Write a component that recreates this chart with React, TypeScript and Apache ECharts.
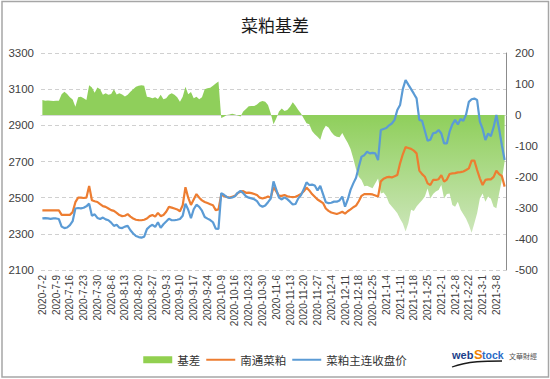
import React, { useEffect, useRef } from "react";
import * as echarts from "echarts";

// Trading-day calendar (weekdays minus exchange holidays)
const START_DATE = "2020-07-02";
const END_DATE = "2021-03-11";
const HOLIDAYS = [
  "2020-10-1", "2020-10-2", "2020-10-5", "2020-10-6", "2020-10-7", "2020-10-8",
  "2021-1-1",
  "2021-2-11", "2021-2-12", "2021-2-15", "2021-2-16", "2021-2-17",
];

function buildCategories(): string[] {
  const out: string[] = [];
  const d = new Date(START_DATE + "T00:00:00Z");
  const end = new Date(END_DATE + "T00:00:00Z");
  while (d.getTime() <= end.getTime()) {
    const wd = d.getUTCDay();
    const s = `${d.getUTCFullYear()}-${d.getUTCMonth() + 1}-${d.getUTCDate()}`;
    if (wd !== 0 && wd !== 6 && HOLIDAYS.indexOf(s) < 0) out.push(s);
    d.setUTCDate(d.getUTCDate() + 1);
  }
  return out;
}
const categories = buildCategories();

// 南通菜粕 (spot)
const spot = [
  2430, 2430, 2430, 2430, 2430, 2430, 2430, 2405, 2405, 2405,
  2405, 2420, 2475, 2500, 2500, 2498, 2500, 2565, 2486, 2480,
  2476, 2464, 2453, 2449, 2440, 2431, 2427, 2416, 2404, 2398,
  2400, 2409, 2395, 2385, 2378, 2376, 2375, 2378, 2385, 2398,
  2404, 2395, 2416, 2398, 2404, 2422, 2449, 2445, 2440, 2435,
  2425, 2458, 2558, 2500, 2460, 2490, 2520, 2500, 2485, 2476,
  2470, 2464, 2458, 2431, 2435, 2515, 2510, 2504, 2500, 2505,
  2510, 2525, 2533, 2536, 2527, 2528, 2525, 2520, 2515, 2500,
  2495, 2500, 2507, 2500, 2558, 2535, 2510, 2510, 2515, 2508,
  2505, 2503, 2505, 2512, 2520, 2535, 2556, 2540, 2520, 2505,
  2490, 2480, 2470, 2440, 2427, 2418, 2414, 2410, 2415, 2422,
  2412, 2425, 2435, 2447, 2456, 2480, 2510, 2520, 2520, 2520,
  2518, 2512, 2506, 2590, 2605, 2612, 2615, 2612, 2618, 2625,
  2690, 2740, 2780, 2775, 2770, 2760, 2745, 2650, 2630, 2616,
  2579, 2570, 2598, 2598, 2602, 2625, 2589, 2600, 2631, 2634,
  2636, 2640, 2641, 2645, 2653, 2662, 2705, 2705, 2653, 2607,
  2570, 2598, 2601, 2601, 2615, 2649, 2630, 2620, 2561,
];

// 菜粕主连收盘价 (futures close)
const futures = [
  2385, 2387, 2385, 2383, 2385, 2385, 2382, 2340, 2332, 2335,
  2348, 2370, 2440, 2443, 2441, 2444, 2452, 2467, 2400, 2408,
  2388, 2382, 2390, 2380, 2375, 2362, 2344, 2350, 2334, 2332,
  2340, 2344, 2320, 2302, 2288, 2282, 2279, 2284, 2326, 2341,
  2350, 2338, 2364, 2333, 2353, 2368, 2384, 2375, 2375, 2378,
  2382, 2400, 2467, 2433, 2386, 2436, 2461, 2449, 2428, 2393,
  2384, 2376, 2364, 2329, 2327, 2525, 2516, 2504, 2498, 2501,
  2508, 2527, 2538, 2525, 2508, 2500, 2496, 2491, 2481, 2458,
  2450, 2457, 2475, 2495, 2590, 2545, 2500, 2490, 2502, 2492,
  2478, 2462, 2465, 2496, 2515, 2546, 2585, 2570, 2572, 2567,
  2540, 2565, 2520, 2475, 2470, 2472, 2478, 2478, 2485, 2506,
  2450, 2490, 2543, 2579, 2610, 2671, 2727, 2735, 2754, 2745,
  2748, 2745, 2708, 2874, 2880, 2885, 2900, 2910, 2930, 2985,
  3012, 3100, 3151, 3125, 3100, 3075, 3049, 2930, 2925, 2870,
  2815, 2820, 2856, 2860, 2874, 2855, 2800, 2800, 2865, 2905,
  2930, 2905, 2935, 2925, 2960, 3030, 3044, 3048, 3040, 2920,
  2880, 2819, 2855, 2840, 2890, 2957, 2880, 2790, 2708,
];

// 基差 (right axis)
const basis = [
  48, 46, 47, 46, 45, 46, 46, 67, 75, 68,
  57, 50, 27, 57, 59, 54, 48, 96, 89, 72,
  89, 83, 65, 70, 65, 68, 83, 66, 70, 66,
  60, 65, 75, 83, 91, 94, 96, 94, 59, 57,
  54, 57, 52, 65, 51, 54, 65, 70, 65, 57,
  43, 59, 91, 67, 74, 54, 59, 51, 57, 83,
  86, 88, 94, 102, 108, -10, -6, 0, 2, 4,
  2, -2, -5, 11, 19, 28, 29, 29, 34, 42,
  45, 43, 32, 5, -30, -11, 11, 21, 13, 16,
  27, 41, 30, 16, 5, -11, -27, -30, -52, -62,
  -70, -80, -50, -35, -40, -55, -65, -70, -72, -58,
  -75, -90, -110, -140, -175, -199, -210, -230, -228, -232,
  -236, -220, -205, -253, -250, -262, -285, -295, -306, -317,
  -335, -350, -376, -349, -306, -310, -295, -285, -275, -263,
  -237, -269, -255, -247, -242, -226, -269, -255, -253, -290,
  -296, -280, -306, -320, -335, -355, -380, -349, -317, -269,
  -253, -280, -263, -270, -296, -301, -253, -210, -150,
];

const SERIES_NAMES = ["基差", "南通菜粕", "菜粕主连收盘价"];
const TITLE = "菜粕基差";

const FONT = '"Liberation Sans", "Noto Sans CJK SC", sans-serif';
const CJK = '"Noto Sans CJK SC", "Liberation Sans", sans-serif';

const ORANGE = "#ed7d31";
const BLUE = "#5b9bd5";
const GREEN = "#92d050";

export default function App() {
  const ref = useRef<HTMLDivElement>(null);

  useEffect(() => {
    if (!ref.current) return;
    const chart = echarts.init(ref.current, null, { renderer: "svg" });
    const green = {
      type: "linear",
      x: 0,
      y: 115,
      x2: 0,
      y2: 238,
      global: true,
      colorStops: [
        { offset: 0, color: "#8fcf5b" },
        { offset: 1, color: "#cfe7be" },
      ],
    };
    const hidden = { color: "rgba(0,0,0,0)", borderColor: "rgba(0,0,0,0)", borderWidth: 0 };
    chart.setOption({
      animation: false,
      backgroundColor: "#ffffff",
      title: {
        text: TITLE,
        left: "center",
        top: 11,
        textStyle: { fontFamily: CJK, fontSize: 17, fontWeight: "normal", color: "#1a1a1a" },
      },
      grid: { left: 41, right: 44, top: 53, bottom: 109 },
      legend: {
        left: "center",
        top: 349,
        itemWidth: 29,
        itemHeight: 7,
        itemGap: 5,
        textStyle: { fontFamily: CJK, fontSize: 11.5, color: "#333" },
        data: [
          { name: SERIES_NAMES[0], icon: "rect", itemStyle: { color: GREEN } },
          { name: SERIES_NAMES[1], itemStyle: hidden, lineStyle: { color: ORANGE, width: 2 } },
          { name: SERIES_NAMES[2], itemStyle: hidden, lineStyle: { color: BLUE, width: 2 } },
        ],
      },
      xAxis: {
        type: "category",
        data: categories,
        boundaryGap: true,
        axisLine: { show: true, lineStyle: { color: "#d9d9d9", width: 1 } },
        axisTick: { show: false },
        axisLabel: {
          rotate: 90,
          interval: 4,
          margin: 5,
          fontFamily: FONT,
          fontSize: 10,
          color: "#404040",
        },
      },
      yAxis: [
        {
          type: "value",
          min: 2100,
          max: 3300,
          interval: 200,
          axisLine: { show: false },
          axisTick: { show: false },
          axisLabel: {
            fontFamily: FONT,
            fontSize: 11.5,
            color: "#404040",
            margin: 7,
            formatter: (v: number) => String(v),
          },
          splitLine: { show: true, lineStyle: { color: "#d0d0d0", type: [4, 3], width: 1 } },
        },
        {
          type: "value",
          min: -500,
          max: 200,
          interval: 100,
          position: "right",
          axisLine: { show: true, lineStyle: { color: "#8c8c8c", width: 1 } },
          axisTick: { show: false },
          axisLabel: {
            fontFamily: FONT,
            fontSize: 11.5,
            color: "#404040",
            margin: 9,
            formatter: (v: number) => String(v),
          },
          splitLine: { show: false },
        },
      ],
      series: [
        {
          name: SERIES_NAMES[0],
          type: "line",
          yAxisIndex: 1,
          data: basis,
          symbol: "none",
          showSymbol: false,
          lineStyle: { width: 0, color: GREEN },
          itemStyle: { color: GREEN },
          areaStyle: { color: green, opacity: 1 },
          z: 1,
        },
        {
          name: SERIES_NAMES[1],
          type: "line",
          yAxisIndex: 0,
          data: spot,
          symbol: "none",
          showSymbol: false,
          lineStyle: { width: 2.2, color: ORANGE },
          itemStyle: { color: ORANGE },
          z: 2,
        },
        {
          name: SERIES_NAMES[2],
          type: "line",
          yAxisIndex: 0,
          data: futures,
          symbol: "none",
          showSymbol: false,
          lineStyle: { width: 2.2, color: BLUE },
          itemStyle: { color: BLUE },
          z: 3,
        },
      ],
      graphic: [
        {
          type: "rect",
          shape: { x: 2, y: 1.5, width: 546.5, height: 375.5 },
          style: { fill: "none", stroke: "#a6a6a6", lineWidth: 1.5 },
          silent: true,
          z: 100,
        },
        {
          type: "text",
          x: 452,
          y: 355,
          style: {
            text: "web",
            fill: "#1b3f8b",
            font: 'bold 11px "Liberation Sans", sans-serif',
            verticalAlign: "middle",
          },
        },
        {
          type: "text",
          x: 474,
          y: 354,
          style: {
            text: "S",
            fill: "#f08300",
            font: 'bold 13px "Liberation Sans", sans-serif',
            verticalAlign: "middle",
          },
        },
        {
          type: "text",
          x: 482,
          y: 355,
          style: {
            text: "tock",
            fill: "#2a6cc7",
            font: 'bold 10.5px "Liberation Sans", sans-serif',
            verticalAlign: "middle",
          },
        },
        {
          type: "bezierCurve",
          shape: { x1: 452, y1: 367, x2: 502, y2: 361, cpx1: 468, cpy1: 361, cpx2: 486, cpy2: 361 },
          style: { stroke: "#1a1a1a", lineWidth: 1.3, fill: "none" },
        },
        {
          type: "text",
          x: 509,
          y: 356,
          style: {
            text: "文華財經",
            fill: "#555",
            font: '7px "Noto Sans CJK TC", sans-serif',
            verticalAlign: "middle",
          },
        },
      ],
    });
    return () => chart.dispose();
  }, []);

  return (
    <div
      ref={ref}
      style={{ position: "absolute", left: 0, top: 0, width: 550, height: 379, background: "#fff" }}
    />
  );
}
